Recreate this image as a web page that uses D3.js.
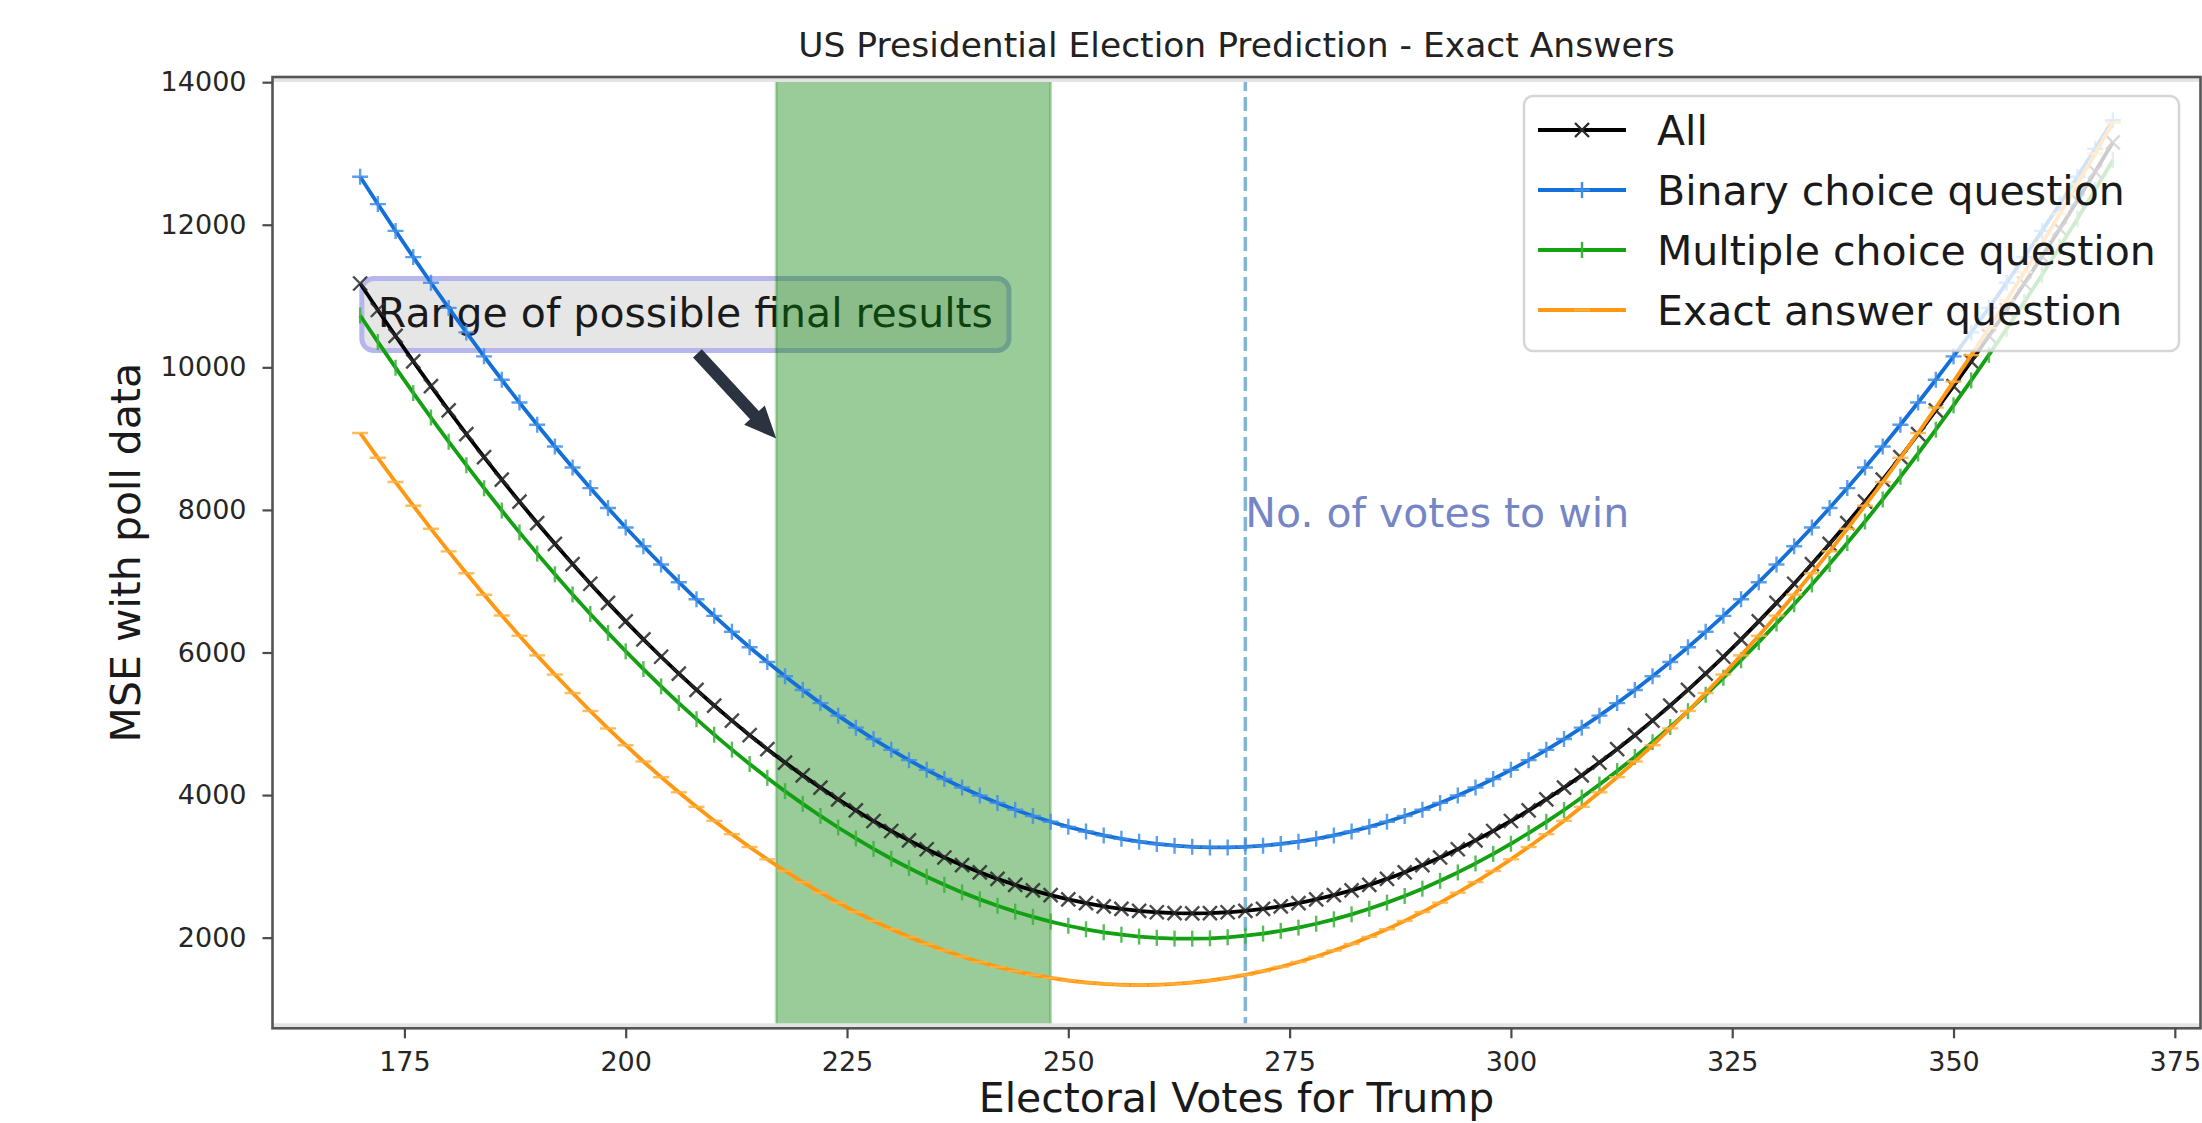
<!DOCTYPE html>
<html>
<head>
<meta charset="utf-8">
<title>US Presidential Election Prediction - Exact Answers</title>
<script src="https://cdn.jsdelivr.net/npm/d3@7"></script>
<style>
  html, body { margin: 0; padding: 0; background: #ffffff; }
  svg { display: block; font-family: "DejaVu Sans", "Noto Sans", sans-serif; }
</style>
</head>
<body>
<svg id="chart" width="2202" height="1123"></svg>
<script>
// Electoral votes evaluated (x values)
const votes = [170,172,174,176,178,180,182,184,186,188,190,192,194,196,198,200,202,204,206,208,
  210,212,214,216,218,220,222,224,226,228,230,232,234,236,238,240,242,244,246,248,
  250,252,254,256,258,260,262,264,266,268,270,272,274,276,278,280,282,284,286,288,
  290,292,294,296,298,300,302,304,306,308,310,312,314,316,318,320,322,324,326,328,
  330,332,334,336,338,340,342,344,346,348,350,352,354,356,358,360,362,364,366,368];

// Mean squared error against poll data, one array per question type
const mseAll = [11176,10804,10440,10084,9736,9396,9064,8740,8424,8116,
  7816,7524,7240,6964,6696,6436,6184,5940,5704,5476,
  5256,5044,4840,4644,4456,4276,4104,3940,3784,3636,
  3496,3364,3240,3124,3016,2916,2824,2740,2664,2596,
  2536,2484,2440,2404,2376,2356,2344,2340,2344,2356,
  2376,2404,2440,2484,2536,2596,2664,2740,2824,2916,
  3016,3124,3240,3364,3496,3636,3784,3940,4104,4276,
  4456,4644,4840,5044,5256,5476,5704,5940,6184,6436,
  6696,6964,7240,7524,7816,8116,8424,8740,9064,9396,
  9736,10084,10440,10804,11176,11556,11944,12340,12744,13156];

const mseBinary = [12674,12290,11914,11546,11186,10834,10490,10154,9826,9506,
  9194,8890,8594,8306,8026,7754,7490,7234,6986,6746,
  6514,6290,6074,5866,5666,5474,5290,5114,4946,4786,
  4634,4490,4354,4226,4106,3994,3890,3794,3706,3626,
  3554,3490,3434,3386,3346,3314,3290,3274,3266,3266,
  3274,3290,3314,3346,3386,3434,3490,3554,3626,3706,
  3794,3890,3994,4106,4226,4354,4490,4634,4786,4946,
  5114,5290,5474,5666,5866,6074,6290,6514,6746,6986,
  7234,7490,7754,8026,8306,8594,8890,9194,9506,9826,
  10154,10490,10834,11186,11546,11914,12290,12674,13066,13466];

const mseMultiple = [10727,10357,9995,9641,9295,8957,8627,8305,7991,7685,
  7387,7097,6815,6541,6275,6017,5767,5525,5291,5065,
  4847,4637,4435,4241,4055,3877,3707,3545,3391,3245,
  3107,2977,2855,2741,2635,2537,2447,2365,2291,2225,
  2167,2117,2075,2041,2015,1997,1987,1985,1991,2005,
  2027,2057,2095,2141,2195,2257,2327,2405,2491,2585,
  2687,2797,2915,3041,3175,3317,3467,3625,3791,3965,
  4147,4337,4535,4741,4955,5177,5407,5645,5891,6145,
  6407,6677,6955,7241,7535,7837,8147,8465,8791,9125,
  9467,9817,10175,10541,10915,11297,11687,12085,12491,12905];

const mseExact = [9079,8731,8391,8059,7735,7419,7111,6811,6519,6235,
  5959,5691,5431,5179,4935,4699,4471,4251,4039,3835,
  3639,3451,3271,3099,2935,2779,2631,2491,2359,2235,
  2119,2011,1911,1819,1735,1659,1591,1531,1479,1435,
  1399,1371,1351,1339,1335,1339,1351,1371,1399,1435,
  1479,1531,1591,1659,1735,1819,1911,2011,2119,2235,
  2359,2491,2631,2779,2935,3099,3271,3451,3639,3835,
  4039,4251,4471,4699,4935,5179,5431,5691,5959,6235,
  6519,6811,7111,7419,7735,8059,8391,8731,9079,9435,
  9799,10171,10551,10939,11335,11739,12151,12571,12999,13435];

const seriesNames = ["All", "Binary choice question", "Multiple choice question", "Exact answer question"];
const xTicks = [175, 200, 225, 250, 275, 300, 325, 350, 375];
const yTicks = [2000, 4000, 6000, 8000, 10000, 12000, 14000];

// Range of possible final results and the winning threshold
const resultRange = [217, 248];
const votesToWin = 270;
const rangeLabel = "Range of possible final results";
const rangeLabelAt = [172, 10700];
const rangeArrowTip = [217, 9000];
const winLabel = "No. of votes to win";
const winLabelY = 8000;

const chartTitle = "US Presidential Election Prediction - Exact Answers";
const xTitle = "Electoral Votes for Trump";
const yTitle = "MSE with poll data";

// ---------------------------------------------------------------------------
const series = [
  { name: seriesNames[0], values: mseAll,      color: "#000000", marker: "x", mcolor: "#2a2a2a" },
  { name: seriesNames[1], values: mseBinary,   color: "#146fd8", marker: "+", mcolor: "#3f8ee6" },
  { name: seriesNames[2], values: mseMultiple, color: "#13a013", marker: "|", mcolor: "#3ab23a" },
  { name: seriesNames[3], values: mseExact,    color: "#ff9810", marker: "_", mcolor: "#ffb040" }
];

const svg = d3.select("#chart");
const frame = { left: 272.5, right: 2200.5, top: 77, bottom: 1028.3 };

// Matplotlib-style 5% autoscale margins
const withMargin = ([lo, hi]) => [lo - (hi - lo) * 0.05, hi + (hi - lo) * 0.05];
const x = d3.scaleLinear()
  .domain(withMargin(d3.extent(votes)))
  .range([frame.left, frame.right]);
const y = d3.scaleLinear()
  .domain(withMargin(d3.extent(series.flatMap(s => s.values))))
  .range([frame.bottom, frame.top]);

svg.append("defs").append("clipPath").attr("id", "plotClip")
  .append("rect")
  .attr("x", frame.left).attr("y", frame.top)
  .attr("width", frame.right - frame.left).attr("height", frame.bottom - frame.top);

// Annotation box with its label (drawn first, so the shaded range tints it)
const annG = svg.append("g");
const annText = annG.append("text")
  .attr("x", x(rangeLabelAt[0]))
  .attr("y", y(rangeLabelAt[1]) + 10)
  .attr("font-size", 41)
  .attr("fill", "#1a1a1a")
  .text(rangeLabel);
const tb = annText.node().getBBox();
const boxPadX = 16, boxPadY = 13;
const box = { x: tb.x - boxPadX, y: tb.y - boxPadY + 2, w: tb.width + boxPadX * 2, h: tb.height + boxPadY * 2 - 2 };
annG.insert("rect", "text")
  .attr("x", box.x).attr("y", box.y)
  .attr("width", box.w).attr("height", box.h)
  .attr("rx", 12).attr("ry", 12)
  .attr("fill", "#e6e6e6")
  .attr("stroke", "#b6b6ec")
  .attr("stroke-width", 5);

const plot = svg.append("g").attr("clip-path", "url(#plotClip)");

// Shaded range of possible results
plot.append("rect")
  .attr("x", x(resultRange[0]))
  .attr("y", frame.top)
  .attr("width", x(resultRange[1]) - x(resultRange[0]))
  .attr("height", frame.bottom - frame.top)
  .attr("fill", "#008000").attr("fill-opacity", 0.4)
  .attr("stroke", "#008000").attr("stroke-opacity", 0.25).attr("stroke-width", 3);

// Arrow from the annotation box to the range
(function drawArrow() {
  const sx = box.x + box.w / 2 + 12, sy = box.y + box.h + 3;
  const tx = x(rangeArrowTip[0]), ty = y(rangeArrowTip[1]);
  const len = Math.hypot(tx - sx, ty - sy);
  const ux = (tx - sx) / len, uy = (ty - sy) / len;
  const nx = -uy, ny = ux;
  const shaft = 12, head = 28, headLen = 32;
  const bx = tx - ux * headLen, by = ty - uy * headLen;
  const pts = [
    [sx + nx * shaft / 2, sy + ny * shaft / 2],
    [bx + nx * shaft / 2, by + ny * shaft / 2],
    [bx + nx * head / 2, by + ny * head / 2],
    [tx, ty],
    [bx - nx * head / 2, by - ny * head / 2],
    [bx - nx * shaft / 2, by - ny * shaft / 2],
    [sx - nx * shaft / 2, sy - ny * shaft / 2]
  ];
  svg.append("path")
    .attr("d", "M" + pts.map(p => p.join(",")).join("L") + "Z")
    .attr("fill", "#2b3340");
})();

// Winning threshold
plot.append("line")
  .attr("x1", x(votesToWin)).attr("x2", x(votesToWin))
  .attr("y1", frame.top).attr("y2", frame.bottom)
  .attr("stroke", "#1f77b4").attr("stroke-opacity", 0.55)
  .attr("stroke-width", 3.5)
  .attr("stroke-dasharray", "14,6");

// Marker shapes
const markerPath = {
  "x": "M-7,-7L7,7M-7,7L7,-7",
  "+": "M-8,0H8M0,-8V8",
  "|": "M0,-8V8",
  "_": "M-8,0H8"
};

const line = d3.line().x((d, i) => x(votes[i])).y(d => y(d));

series.forEach(s => {
  const g = plot.append("g");
  g.append("path")
    .attr("d", line(s.values))
    .attr("fill", "none")
    .attr("stroke", s.color)
    .attr("stroke-width", 3.8)
    .attr("stroke-linejoin", "round");
  g.selectAll("path.m")
    .data(s.values)
    .join("path")
    .attr("class", "m")
    .attr("transform", (d, i) => `translate(${x(votes[i])},${y(d)})`)
    .attr("d", markerPath[s.marker])
    .attr("fill", "none")
    .attr("stroke", s.mcolor)
    .attr("stroke-width", 2.4)
    .attr("stroke-opacity", 0.85);
});

// Threshold label
svg.append("text")
  .attr("x", x(votesToWin))
  .attr("y", y(winLabelY) + 17)
  .attr("font-size", 41)
  .attr("fill", "#7585c6")
  .text(winLabel);

// Axes frame
const bandColor = "#e4e4e4";
svg.append("line").attr("x1", frame.left).attr("x2", frame.right)
  .attr("y1", frame.bottom - 3).attr("y2", frame.bottom - 3)
  .attr("stroke", bandColor).attr("stroke-width", 4);
svg.append("line").attr("x1", frame.left).attr("x2", frame.right)
  .attr("y1", frame.top + 3).attr("y2", frame.top + 3)
  .attr("stroke", bandColor).attr("stroke-width", 4);
svg.append("rect")
  .attr("x", frame.left).attr("y", frame.top)
  .attr("width", frame.right - frame.left).attr("height", frame.bottom - frame.top)
  .attr("fill", "none").attr("stroke", "#555555").attr("stroke-width", 2.6);

// Axes
const xAxis = svg.append("g")
  .attr("transform", `translate(0,${frame.bottom})`)
  .call(d3.axisBottom(x).tickValues(xTicks).tickSize(10).tickPadding(14).tickFormat(d3.format("d")));
const yAxis = svg.append("g")
  .attr("transform", `translate(${frame.left},0)`)
  .call(d3.axisLeft(y).tickValues(yTicks).tickSize(10).tickPadding(16).tickFormat(d3.format("d")));
[xAxis, yAxis].forEach(a => {
  a.select(".domain").remove();
  a.selectAll(".tick line").attr("stroke", "#4a4a4a").attr("stroke-width", 2.2);
  a.selectAll(".tick text")
    .attr("font-size", 27)
    .attr("font-family", "DejaVu Sans, sans-serif")
    .attr("fill", "#262626");
});

// Titles
svg.append("text")
  .attr("x", (frame.left + frame.right) / 2).attr("y", 57)
  .attr("text-anchor", "middle")
  .attr("font-size", 34.5).attr("fill", "#222222")
  .text(chartTitle);
svg.append("text")
  .attr("x", (frame.left + frame.right) / 2).attr("y", 1112)
  .attr("text-anchor", "middle")
  .attr("font-size", 41).attr("fill", "#1a1a1a")
  .text(xTitle);
svg.append("text")
  .attr("transform", `translate(140,${(frame.top + frame.bottom) / 2}) rotate(-90)`)
  .attr("text-anchor", "middle")
  .attr("font-size", 41).attr("fill", "#1a1a1a")
  .text(yTitle);

// Legend
const legend = svg.append("g");
legend.append("rect")
  .attr("x", 1524).attr("y", 96)
  .attr("width", 655).attr("height", 255)
  .attr("rx", 9).attr("ry", 9)
  .attr("fill", "#ffffff").attr("fill-opacity", 0.8)
  .attr("stroke", "#cccccc").attr("stroke-opacity", 0.8).attr("stroke-width", 2.5);
series.forEach((s, i) => {
  const ry = 130 + i * 60;
  legend.append("line")
    .attr("x1", 1538).attr("x2", 1626)
    .attr("y1", ry).attr("y2", ry)
    .attr("stroke", s.color).attr("stroke-width", 3.8);
  legend.append("path")
    .attr("transform", `translate(1582,${ry})`)
    .attr("d", markerPath[s.marker])
    .attr("fill", "none").attr("stroke", s.mcolor).attr("stroke-width", 2.4);
  legend.append("text")
    .attr("x", 1657).attr("y", ry + 15)
    .attr("font-size", 41).attr("fill", "#1a1a1a")
    .text(s.name);
});
</script>
</body>
</html>
